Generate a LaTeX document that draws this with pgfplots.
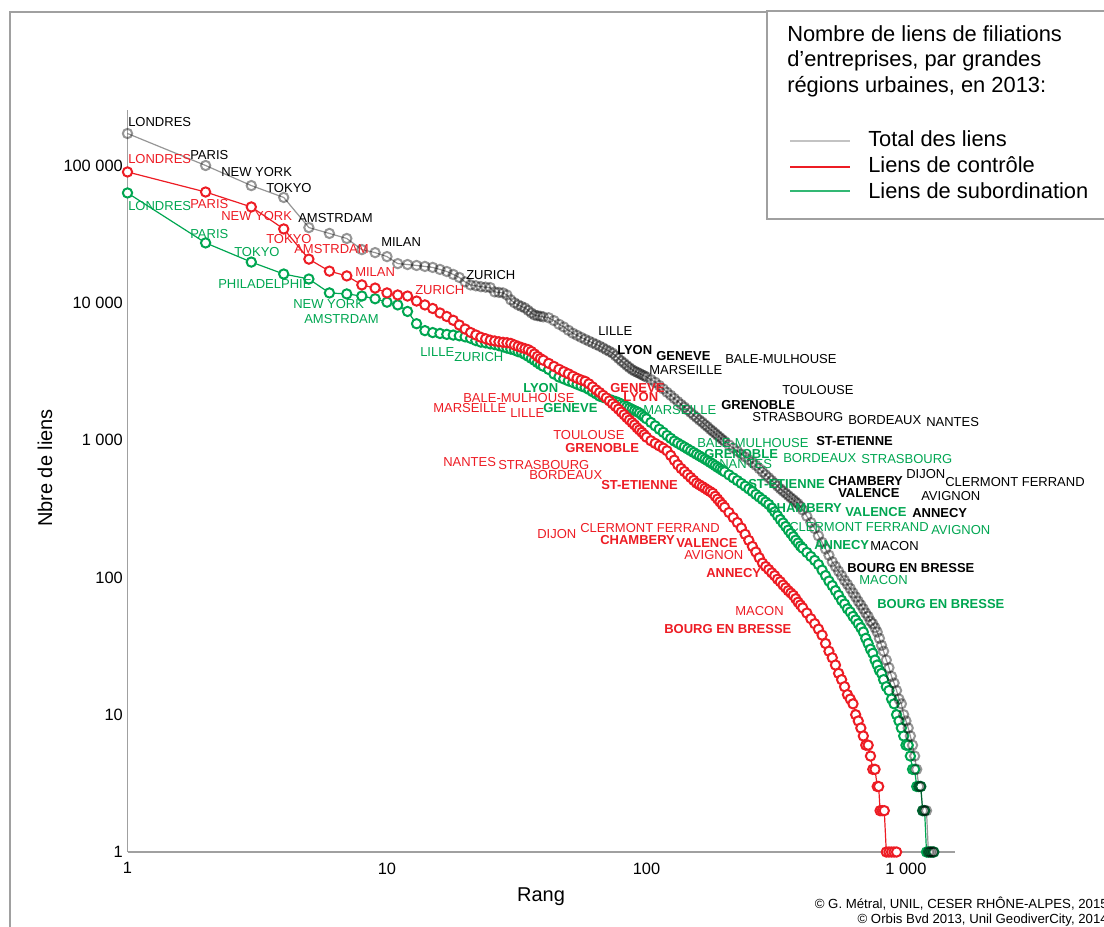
\documentclass[border=0pt]{standalone}
\usepackage{fontspec}
\setmainfont{Liberation Sans}
\usepackage{pgfplots}
\pgfplotsset{compat=1.18}
\definecolor{sgray}{RGB}{150,150,150}
\definecolor{sred}{RGB}{237,28,36}
\definecolor{sgreen}{RGB}{0,166,81}
\definecolor{framegray}{RGB}{160,160,160}
\definecolor{leggray}{RGB}{195,195,195}
\begin{document}
\begin{tikzpicture}
\begin{axis}[
  at={(95.625pt,-639pt)}, anchor=south west,
  scale only axis, width=620.6pt, height=556.5pt,
  xmode=log, ymode=log,
  xmin=1, xmax=1545, ymin=1, ymax=253600,
  axis x line*=bottom, axis y line*=left,
  axis line style={draw=framegray, line width=1.1pt},
  xtick={1,10,100,1000}, xticklabels={1,10,100,{1 000}},
  ytick={1,10,100,1000,10000,100000},
  yticklabels={1,10,100,{1 000},{10 000},{100 000}},
  minor xtick={}, minor ytick={},
  tick style={draw=none}, major tick length=0pt,
  tick label style={font=\fontsize{12.3}{14}\selectfont},
  xticklabel style={yshift=-4.5pt},
  clip=false,
  every axis plot/.append style={line width=0.9pt, mark=*, mark size=3.5pt},
]
\addplot[sgreen, mark options={fill=white, draw=sgreen, line width=1.5pt, solid}] coordinates {
(1,63100)(2,27300)(3,19800)(4,16200)(5,14900)(6,11800)(7,11600)(8,11200)(9,10700)(10,10100)
(11,9650)(12,8650)(13,7040)(14,6270)(15,6070)(16,5980)(17,5890)(18,5820)(19,5750)(20,5650)
(21,5510)(22,5310)(23,5170)(24,5110)(25,5020)(26,4960)(27,4870)(28,4780)(29,4680)(30,4600)
(31,4530)(32,4410)(33,4340)(34,4210)(35,4080)(36,3940)(37,3810)(38,3670)(39,3550)(40,3450)
(42,3270)(44,3030)(46,2880)(48,2790)(50,2700)(52,2630)(54,2550)(56,2480)(58,2420)(60,2340)
(62,2250)(64,2170)(66,2090)(68,2050)(70,2010)(72,1980)(74,1940)(76,1910)(78,1875)(80,1830)
(82,1790)(84,1750)(86,1710)(88,1675)(90,1640)(92,1610)(94,1575)(96,1520)(98,1475)(100,1430)
(104,1345)(108,1270)(112,1200)(116,1140)(120,1080)(124,1030)(128,984)(132,951)(136,920)(140,891)
(144,863)(148,837)(152,812)(156,789)(160,767)(164,747)(168,727)(172,708)(176,688)(180,670)
(184,651)(188,634)(192,618)(196,603)(200,588)
(208,558)(216,531)(224,507)(232,484)(240,462)(248,441)(256,422)(264,402)(272,385)(280,369)
(288,354)(296,340)(304,320)(312,300)(320,281)(328,264)(336,249)(344,235)(352,221)(360,209)
(368,198)(376,187)(384,178)(392,169)(400,163)
(415,152)(430,142)(445,133)(460,124)(475,113)(490,103)(505,94)(520,87)(535,80)(550,74)
(565,68)(580,64)(595,59)(610,56)(625,52)(640,49)(655,46)(670,43)(685,40)(700,36)
(715,33)(730,30)(745,28)(760,25)(775,23)(790,21)(805,20)(820,18)(840,16)(860,15)
(880,13)(900,12)(920,10)(940,9)(960,8)(980,7)(1000,6)(1020,6)(1040,5)(1060,4)
(1080,4)(1100,3)(1120,3)(1140,3)(1160,2)(1180,2)(1200,1)(1220,1)(1240,1)(1260,1)(1280,1)
};
\addplot[sgray, blend mode=multiply, mark options={fill=white, draw=sgray, line width=1.5pt, solid}] coordinates {
(1,171000)(2,100000)(3,71400)(4,58500)(5,35300)(6,32000)(7,29400)(8,24400)(9,23200)(10,21700)
(11,19300)(12,19000)(13,18700)(14,18400)(15,18100)(16,17500)(17,16900)(18,16100)(19,15300)(20,14200)
(21,13500)(22,13300)(23,13100)(24,13000)(25,12900)(26,12000)(27,11900)(28,11800)(29,11400)(30,10500)
(31,10000)(32,9650)(33,9400)(34,9170)(35,8800)(36,8430)(37,8150)(38,8050)(39,7980)(40,7900)
(42,7780)(44,7420)(46,6980)(48,6670)(50,6310)(52,6010)(54,5800)(56,5600)(58,5420)(60,5260)
(62,5110)(64,4970)(66,4840)(68,4700)(70,4550)(72,4430)(74,4300)(76,4110)(78,3940)(80,3770)
(82,3630)(84,3490)(86,3370)(88,3260)(90,3180)(92,3120)(94,3060)(96,2990)(98,2940)(100,2880)
(104,2760)(108,2640)(112,2500)(116,2360)(120,2230)(124,2120)(128,2010)(132,1910)(136,1820)(140,1740)
(144,1660)(148,1590)(152,1520)(156,1460)(160,1400)(164,1350)(168,1295)(172,1250)(176,1200)(180,1160)
(184,1120)(188,1080)(192,1045)(196,1010)(200,979)
(208,923)(216,875)(224,830)(232,791)(240,754)(248,719)(256,689)(264,655)(272,620)(280,587)
(288,558)(296,532)(304,507)(312,484)(320,462)(328,442)(336,425)(344,410)(352,395)(360,380)
(368,368)(376,355)(384,344)(392,328)(400,310)
(415,279)(430,251)(445,227)(460,201)(475,180)(490,161)(505,145)(520,130)(535,120)(550,111)
(565,103)(580,95)(595,89)(610,83)(625,77)(640,72)(655,67)(670,63)(685,59)(700,55)
(715,52)(730,48)(745,46)(760,43)(775,40)(790,36)(805,32)(820,29)(840,25)(860,22)
(880,19)(900,17)(920,15)(940,13)(960,12)(980,10)(1000,9)(1020,8)(1040,7)(1060,6)
(1080,5)(1100,4)(1120,3)(1140,3)(1160,2)(1180,2)(1200,2)(1220,1)(1240,1)(1260,1)(1280,1)
};
\addplot[sred, mark options={fill=white, draw=sred, line width=1.5pt, solid}] coordinates {
(1,89700)(2,64100)(3,49900)(4,34500)(5,20800)(6,17000)(7,15700)(8,13500)(9,12800)(10,11800)
(11,11400)(12,11200)(13,10300)(14,9650)(15,9090)(16,8430)(17,7950)(18,7460)(19,6890)(20,6440)
(21,6080)(22,5830)(23,5610)(24,5470)(25,5340)(26,5270)(27,5200)(28,5150)(29,5120)(30,5060)
(31,4930)(32,4820)(33,4720)(34,4640)(35,4560)(36,4420)(37,4240)(38,4070)(39,3930)(40,3820)
(42,3620)(44,3440)(46,3280)(48,3150)(50,3040)(52,2920)(54,2820)(56,2740)(58,2680)(60,2570)
(62,2440)(64,2320)(66,2220)(68,2120)(70,2030)(72,1930)(74,1840)(76,1760)(78,1680)(80,1600)
(82,1530)(84,1460)(86,1400)(88,1340)(90,1290)(92,1230)(94,1185)(96,1140)(98,1095)(100,1050)
(104,989)(108,946)(112,908)(116,874)(120,836)(124,773)(128,714)(132,661)(136,621)(140,590)
(144,561)(148,534)(152,509)(156,486)(160,472)(164,459)(168,446)(172,433)(176,422)(180,410)
(184,390)(188,372)(192,355)(196,339)(200,324)
(208,297)(216,273)(224,251)(232,229)(240,206)(248,186)(256,168)(264,153)(272,139)(280,127)
(288,120)(296,114)(304,108)(312,103)(320,97)(328,93)(336,88)(344,84)(352,80)(360,77)
(368,74)(376,70)(384,66)(392,63)(400,60)
(415,55)(430,50)(445,46)(460,42)(475,38)(490,33)(505,29)(520,26)(535,23)(550,20)
(565,18)(580,16)(595,14)(610,13)(625,12)(640,10)(655,9)(670,8)(685,7)(700,6)
(715,6)(730,5)(745,4)(760,4)(775,3)(785,3)(795,2)(810,2)(825,2)(840,1)(860,1)(880,1)(900,1)(920,1)
};
\end{axis}
\begin{scope}[x=0.75pt,y=-0.75pt,
  L/.style={anchor=west, inner sep=0pt, font=\fontsize{9.75}{11}\selectfont},
  B/.style={anchor=west, inner sep=0pt, font=\fontsize{9.75}{11}\selectfont\bfseries}]
% frame and legend box
\draw[framegray, line width=1.1pt] (10,1000) -- (10,12) -- (1200,12);
\draw[framegray, line width=1.1pt, fill=white] (767,11) rectangle (1200,219);
\begin{scope}[font=\fontsize{16.4}{19}\selectfont]
\node[anchor=base west, inner sep=0pt] at (787,42) {Nombre de liens de filiations};
\node[anchor=base west, inner sep=0pt] at (787,67) {d’entreprises, par grandes};
\node[anchor=base west, inner sep=0pt] at (787,93) {régions urbaines, en 2013:};
\draw[leggray, line width=1.1pt] (790,141) -- (850,141);
\draw[sred, line width=1.1pt] (790,167) -- (850,167);
\draw[sgreen!80!white, line width=1.1pt] (790,191) -- (850,191);
\node[anchor=base west, inner sep=0pt] at (868,147) {Total des liens};
\node[anchor=base west, inner sep=0pt] at (868,173) {Liens de contrôle};
\node[anchor=base west, inner sep=0pt] at (868,199) {Liens de subordination};
\end{scope}
% axis labels
\node[rotate=90, font=\fontsize{15}{18}\selectfont] at (45,468) {Nbre de liens};
\node[font=\fontsize{15}{18}\selectfont] at (541,897) {Rang};
% credits
\node[anchor=base east, inner sep=0pt, font=\fontsize{9.9}{11}\selectfont] at (1108,908) {© G. Métral, UNIL, CESER RHÔNE-ALPES, 2015};
\node[anchor=base east, inner sep=0pt, font=\fontsize{9.9}{11}\selectfont] at (1108,923) {© Orbis Bvd 2013, Unil GeodiverCity, 2014};
% gray (total) labels
\begin{scope}[black]
\node[L] at (128,122) {LONDRES};
\node[L] at (190,155) {PARIS};
\node[L] at (221,172) {NEW YORK};
\node[L] at (266,188) {TOKYO};
\node[L] at (298,218) {AMSTRDAM};
\node[L] at (381,242) {MILAN};
\node[L] at (466,275) {ZURICH};
\node[L] at (598,331) {LILLE};
\node[B] at (617,350) {LYON};
\node[B] at (656,356) {GENEVE};
\node[L] at (649,370) {MARSEILLE};
\node[L] at (725,359) {BALE-MULHOUSE};
\node[L] at (782,390) {TOULOUSE};
\node[B] at (721,405) {GRENOBLE};
\node[L] at (752,417) {STRASBOURG};
\node[L] at (848,420) {BORDEAUX};
\node[L] at (926,422) {NANTES};
\node[B] at (816,441) {ST-ETIENNE};
\node[B] at (828,481) {CHAMBERY};
\node[L] at (906,474) {DIJON};
\node[L] at (945,482) {CLERMONT FERRAND};
\node[B] at (838,493) {VALENCE};
\node[L] at (921,496) {AVIGNON};
\node[B] at (912,513) {ANNECY};
\node[L] at (870,546) {MACON};
\node[B] at (847,568) {BOURG EN BRESSE};
\end{scope}
% red (controle) labels
\begin{scope}[sred]
\node[L] at (128,159) {LONDRES};
\node[L] at (190,204) {PARIS};
\node[L] at (221,216) {NEW YORK};
\node[L] at (266,239) {TOKYO};
\node[L] at (294,249) {AMSTRDAM};
\node[L] at (355,272) {MILAN};
\node[L] at (415,290) {ZURICH};
\node[L] at (463,398) {BALE-MULHOUSE};
\node[L] at (433,408) {MARSEILLE};
\node[L] at (510,413) {LILLE};
\node[B] at (610,388) {GENEVE};
\node[B] at (623,397) {LYON};
\node[L] at (553,435) {TOULOUSE};
\node[B] at (565,448) {GRENOBLE};
\node[L] at (443,462) {NANTES};
\node[L] at (498,465) {STRASBOURG};
\node[L] at (529,475) {BORDEAUX};
\node[B] at (601,485) {ST-ETIENNE};
\node[L] at (537,534) {DIJON};
\node[L] at (580,528) {CLERMONT FERRAND};
\node[B] at (600,540) {CHAMBERY};
\node[B] at (676,543) {VALENCE};
\node[L] at (684,555) {AVIGNON};
\node[B] at (706,573) {ANNECY};
\node[L] at (735,611) {MACON};
\node[B] at (664,629) {BOURG EN BRESSE};
\end{scope}
% green (subordination) labels
\begin{scope}[sgreen]
\node[L] at (128,206) {LONDRES};
\node[L] at (190,234) {PARIS};
\node[L] at (234,252) {TOKYO};
\node[L] at (218,284) {PHILADELPHIE};
\node[L] at (293,304) {NEW YORK};
\node[L] at (304,319) {AMSTRDAM};
\node[L] at (420,352) {LILLE};
\node[L] at (454,357) {ZURICH};
\node[B] at (523,388) {LYON};
\node[B] at (543,408) {GENEVE};
\node[L] at (643,410) {MARSEILLE};
\node[L] at (697,443) {BALE-MULHOUSE};
\node[B] at (704,454) {GRENOBLE};
\node[L] at (719,464) {NANTES};
\node[L] at (783,458) {BORDEAUX};
\node[L] at (861,459) {STRASBOURG};
\node[B] at (748,484) {ST-ETIENNE};
\node[B] at (767,508) {CHAMBERY};
\node[B] at (845,512) {VALENCE};
\node[L] at (789,527) {CLERMONT FERRAND};
\node[L] at (931,530) {AVIGNON};
\node[B] at (814,545) {ANNECY};
\node[L] at (859,580) {MACON};
\node[B] at (877,604) {BOURG EN BRESSE};
\end{scope}
\end{scope}
\pgfresetboundingbox
\path[use as bounding box] (0pt,0pt) rectangle (828pt,-695.25pt);
\end{tikzpicture}
\end{document}
